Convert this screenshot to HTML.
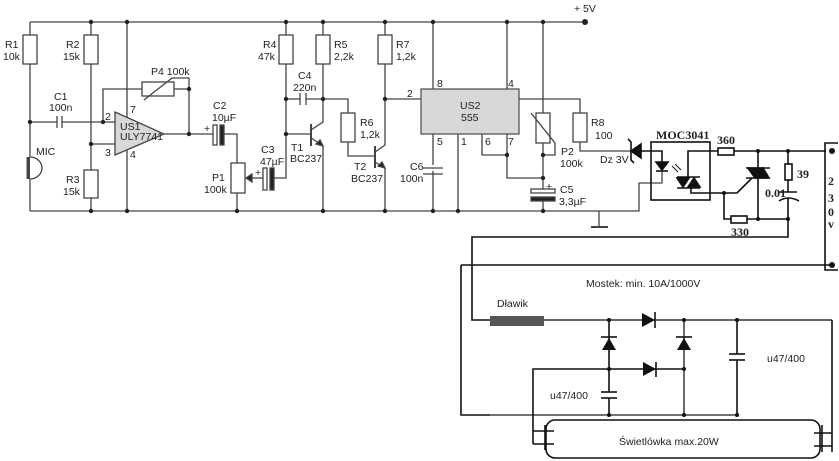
<!DOCTYPE html>
<html><head><meta charset="utf-8"><style>
html,body{margin:0;padding:0;background:#fff;width:839px;height:461px;overflow:hidden}
svg{display:block}
text{font-family:"Liberation Sans",sans-serif;font-size:10.5px;fill:#222}
.b{font-weight:bold;font-family:"Liberation Serif",serif;font-size:12px}
</style></head><body>
<svg width="839" height="461" viewBox="0 0 839 461" xmlns="http://www.w3.org/2000/svg">
<rect width="839" height="461" fill="#fff"/>
<g stroke="#444" stroke-width="1.3" fill="none">
<polyline points="30,22 585,22"/>
<polyline points="30,211 639,211 639,183 662,183 662,172"/>
<polyline points="599,211 599,227"/><line x1="591" y1="227" x2="608" y2="227" stroke-width="2"/>
<line x1="30" y1="22" x2="30" y2="211"/>
<rect x="23" y="35" width="14" height="29" fill="#fff"/>
<path d="M30,157 A12,11 0 0,1 30,179" fill="#fff"/>
<line x1="28" y1="157" x2="28" y2="179" stroke-width="3"/>
<line x1="30" y1="122" x2="57" y2="122"/><line x1="62" y1="122" x2="115" y2="122"/>
<line x1="57" y1="116" x2="57" y2="128"/><line x1="62" y1="116" x2="62" y2="128"/>
<line x1="91" y1="22" x2="91" y2="211"/>
<rect x="84" y="35" width="14" height="29" fill="#fff"/>
<rect x="84" y="170" width="14" height="28" fill="#fff"/>
<line x1="91" y1="144" x2="115" y2="144"/>
<line x1="127" y1="22" x2="127" y2="211"/>
<polygon points="115,112 115,155 164,134" fill="#d8d8d8"/>
<polyline points="103,122 103,89 142,89"/>
<rect x="142" y="82" width="32" height="14" fill="#fff"/>
<polyline points="174,89 189,89"/>
<polyline points="144,100 172,78 189,78 189,134"/>
<line x1="164" y1="134" x2="213" y2="134"/>
<rect x="213" y="125" width="4" height="20" fill="#fff"/>
<rect x="220" y="125" width="4" height="20" fill="#222"/>
<polyline points="224,134 237,134 237,163"/>
<rect x="231" y="163" width="14" height="30" fill="#fff"/>
<line x1="237" y1="193" x2="237" y2="211"/>
<line x1="247" y1="178" x2="263" y2="178"/>
<polygon points="246,178 252,174 252,182" fill="#222"/>
<rect x="263" y="168" width="4" height="22" fill="#fff"/>
<rect x="270" y="168" width="4" height="22" fill="#222"/>
<polyline points="274,178 286,178 286,22"/>
<rect x="279" y="35" width="14" height="29" fill="#fff"/>
<line x1="286" y1="99" x2="300" y2="99"/><line x1="306" y1="99" x2="323" y2="99"/>
<line x1="300" y1="93" x2="300" y2="105"/><line x1="306" y1="93" x2="306" y2="105"/>
<line x1="286" y1="134" x2="311" y2="134"/>
<line x1="311" y1="124" x2="311" y2="146" stroke-width="2"/>
<polyline points="311,130 323,122 323,22"/>
<polyline points="311,138 323,146 323,211"/>
<polygon points="323,146 316,144 320,140" fill="#222"/>
<rect x="316" y="35" width="14" height="29" fill="#fff"/>
<polyline points="323,99 348,99 348,156 375,156"/>
<rect x="341" y="113" width="14" height="29" fill="#fff"/>
<line x1="375" y1="146" x2="375" y2="168" stroke-width="2"/>
<polyline points="375,152 385,145 385,22"/>
<polyline points="375,162 385,168 385,211"/>
<polygon points="385,168 378,166 382,162" fill="#222"/>
<rect x="378" y="35" width="14" height="29" fill="#fff"/>
<line x1="385" y1="99" x2="421" y2="99"/>
<line x1="433" y1="22" x2="433" y2="211"/>
<line x1="507" y1="22" x2="507" y2="89"/>
<line x1="458" y1="134" x2="458" y2="211"/>
<polyline points="482,134 482,155 507,155"/>
<polyline points="507,134 507,178 543,178"/>
<rect x="421" y="89" width="98" height="45" fill="#d8d8d8" stroke="#555"/>
<line x1="423" y1="168" x2="443" y2="168" stroke="#fff" stroke-width="6"/>
<line x1="423" y1="168" x2="443" y2="168"/><line x1="423" y1="174" x2="443" y2="174"/>
<line x1="543" y1="22" x2="543" y2="190"/>
<rect x="536" y="113" width="14" height="30" fill="#fff"/>
<polyline points="531,113 555,143 555,155 543,155"/>
<rect x="531" y="189" width="24" height="4" fill="#fff"/>
<rect x="531" y="197" width="24" height="4" fill="#222"/>
<line x1="543" y1="201" x2="543" y2="211"/>
<polyline points="519,99 580,99 580,151 632,151"/>
<rect x="573" y="113" width="14" height="29" fill="#fff"/>
</g>
<g stroke="#111" stroke-width="1.6" fill="none">
<polygon points="631,151 641,144 641,158" fill="#111"/>
<polyline points="628,139 631,142 631,160 634,163"/>
<polyline points="641,151 662,151 662,162"/>
<rect x="651" y="142" width="59" height="58"/>
<polygon points="656,162 668,162 662,170" fill="#111"/>
<line x1="656" y1="171" x2="668" y2="171"/>
<line x1="672" y1="166" x2="678" y2="172" stroke-width="1"/><line x1="675" y1="164" x2="681" y2="170" stroke-width="1"/>
<polyline points="718,151 688,151 688,177"/>
<polygon points="677,178 689,178 683,187" fill="#111"/>
<polygon points="688,187 700,187 694,178" fill="#111"/>
<line x1="677" y1="177" x2="700" y2="177"/><line x1="677" y1="188" x2="700" y2="188"/>
<polyline points="691,188 691,193 724,193"/>
<rect x="718" y="148" width="16" height="7"/>
<line x1="734" y1="151" x2="826" y2="151"/>
<line x1="758" y1="151" x2="758" y2="219"/>
<polygon points="748,168 762,168 755,178" fill="#111"/>
<polygon points="756,178 769,178 763,168" fill="#111"/>
<line x1="746" y1="168" x2="770" y2="168"/><line x1="746" y1="178" x2="770" y2="178"/>
<polyline points="724,193 737,193 752,178"/>
<polyline points="724,193 724,219 731,219"/>
<rect x="731" y="216" width="16" height="7"/>
<line x1="747" y1="219" x2="788" y2="219"/>
<line x1="788" y1="151" x2="788" y2="164"/>
<rect x="785" y="164" width="7" height="16"/>
<line x1="788" y1="180" x2="788" y2="192"/>
<line x1="779" y1="192" x2="797" y2="192"/>
<path d="M779,201 Q788,195 799,201"/>
<polyline points="788,198 788,237 472,237 472,320 490,320"/>
<polyline points="838,143 825,143 825,270 838,270"/>
<line x1="461" y1="265" x2="832" y2="265"/>
<polyline points="461,265 461,415 490,415"/>
</g>
<g fill="#111">
<circle cx="832" cy="151" r="3"/><circle cx="832" cy="265" r="3"/>
<circle cx="758" cy="151" r="2"/><circle cx="788" cy="151" r="2"/><circle cx="758" cy="219" r="2"/><circle cx="788" cy="219" r="2"/><circle cx="724" cy="193" r="2"/>
</g>
<g fill="#222">
<circle cx="585" cy="22" r="3"/>
<circle cx="91" cy="22" r="2.2"/><circle cx="127" cy="22" r="2.2"/><circle cx="286" cy="22" r="2.2"/><circle cx="323" cy="22" r="2.2"/><circle cx="385" cy="22" r="2.2"/><circle cx="433" cy="22" r="2.2"/><circle cx="507" cy="22" r="2.2"/><circle cx="543" cy="22" r="2.2"/>
<circle cx="91" cy="211" r="2.2"/><circle cx="127" cy="211" r="2.2"/><circle cx="237" cy="211" r="2.2"/><circle cx="323" cy="211" r="2.2"/><circle cx="385" cy="211" r="2.2"/><circle cx="433" cy="211" r="2.2"/><circle cx="458" cy="211" r="2.2"/><circle cx="543" cy="211" r="2.2"/>
<circle cx="30" cy="122" r="2.2"/><circle cx="103" cy="122" r="2.2"/><circle cx="91" cy="144" r="2.2"/><circle cx="189" cy="89" r="2.2"/><circle cx="189" cy="134" r="2.2"/>
<circle cx="286" cy="99" r="2.2"/><circle cx="286" cy="134" r="2.2"/><circle cx="323" cy="99" r="2.2"/><circle cx="385" cy="99" r="2.2"/>
<circle cx="507" cy="155" r="2.2"/><circle cx="543" cy="155" r="2.2"/><circle cx="543" cy="178" r="2.2"/>
</g>
<g stroke="#111" stroke-width="1.6" fill="none">
<rect x="490" y="316" width="54" height="10" fill="#555" stroke="none"/>
<line x1="544" y1="320" x2="832" y2="320" stroke="#333"/>
<polyline points="832,320 832,452"/>
<line x1="490" y1="415" x2="737" y2="415" stroke="#444"/>
<line x1="609" y1="320" x2="609" y2="392"/><line x1="609" y1="398" x2="609" y2="415"/>
<line x1="601" y1="392" x2="617" y2="392"/><line x1="601" y1="398" x2="617" y2="398"/>
<line x1="684" y1="320" x2="684" y2="415" stroke="#444"/>
<line x1="737" y1="320" x2="737" y2="354"/><line x1="737" y1="360" x2="737" y2="415"/>
<line x1="729" y1="354" x2="745" y2="354"/><line x1="729" y1="360" x2="745" y2="360"/>
<polyline points="684,369 533,369 533,444"/>
<rect x="546" y="420" width="274" height="38" rx="9"/>
<line x1="533" y1="431" x2="554" y2="431"/><line x1="533" y1="444" x2="554" y2="444"/>
<line x1="545" y1="425" x2="545" y2="450"/>
<line x1="814" y1="433" x2="832" y2="433"/><line x1="814" y1="446" x2="832" y2="446"/>
<line x1="822" y1="425" x2="822" y2="452"/>
<line x1="601" y1="337" x2="617" y2="337"/><line x1="676" y1="337" x2="692" y2="337"/>
<line x1="655" y1="312" x2="655" y2="328"/><line x1="656" y1="362" x2="656" y2="377"/>
</g>
<g fill="#111">
<polygon points="609,338 602,350 616,350"/><polygon points="684,338 677,350 691,350"/>
<polygon points="655,320 642,313 642,327"/><polygon points="656,369 643,362 643,376"/>
<circle cx="609" cy="320" r="2"/><circle cx="684" cy="320" r="2"/><circle cx="737" cy="320" r="2"/>
<circle cx="609" cy="369" r="2"/><circle cx="684" cy="369" r="2"/>
<circle cx="609" cy="415" r="2"/><circle cx="684" cy="415" r="2"/><circle cx="737" cy="415" r="2"/>
</g>
<text x="574" y="12">+ 5V</text>
<text x="5" y="48">R1</text><text x="3" y="60">10k</text>
<text x="66" y="48">R2</text><text x="63" y="60">15k</text>
<text x="66" y="183">R3</text><text x="63" y="195">15k</text>
<text x="36" y="155">MIC</text>
<text x="54" y="100">C1</text><text x="49" y="111">100n</text>
<text x="151" y="75">P4 100k</text>
<text x="105" y="120" font-size="9">2</text><text x="105" y="156" font-size="9">3</text>
<text x="130" y="113" font-size="9">7</text><text x="130" y="158" font-size="9">4</text>
<text x="120" y="130" font-size="8">US1</text><text x="120" y="140" font-size="8">ULY7741</text>
<text x="213" y="109">C2</text><text x="212" y="121">10µF</text>
<text x="204" y="132">+</text><text x="255" y="176">+</text>
<text x="261" y="153">C3</text><text x="260" y="165">47µF</text>
<text x="212" y="181">P1</text><text x="204" y="193">100k</text>
<text x="263" y="48">R4</text><text x="258" y="60">47k</text>
<text x="334" y="48">R5</text><text x="334" y="60">2,2k</text>
<text x="396" y="48">R7</text><text x="396" y="60">1,2k</text>
<text x="298" y="79">C4</text><text x="293" y="91">220n</text>
<text x="360" y="126">R6</text><text x="360" y="138">1,2k</text>
<text x="291" y="151">T1</text><text x="290" y="162">BC237</text>
<text x="354" y="170">T2</text><text x="351" y="182">BC237</text>
<text x="410" y="170">C6</text><text x="400" y="182">100n</text>
<text x="407" y="97">2</text><text x="437" y="87">8</text><text x="508" y="87">4</text>
<text x="437" y="145">5</text><text x="461" y="145">1</text><text x="485" y="145">6</text><text x="508" y="145">7</text>
<text x="460" y="109" font-size="10">US2</text><text x="461" y="121" font-size="10">555</text>
<text x="561" y="155">P2</text><text x="560" y="167">100k</text>
<text x="546" y="190" font-size="9">+</text>
<text x="560" y="193">C5</text><text x="559" y="205">3,3µF</text>
<text x="591" y="126" font-size="9">R8</text><text x="595" y="139" font-size="10">100</text>
<text x="600" y="163">Dz 3V</text>
<text class="b" x="656" y="139">MOC3041</text>
<text class="b" x="717" y="144">360</text>
<text class="b" x="797" y="178">39</text>
<text class="b" x="765" y="197">0.01</text>
<text class="b" x="731" y="236">330</text>
<text class="b" x="828" y="185">2</text><text class="b" x="828" y="202">3</text><text class="b" x="828" y="216">0</text><text class="b" x="828" y="228">v</text>
<text x="586" y="287">Mostek: min. 10A/1000V</text>
<text x="497" y="307">Dławik</text>
<text x="767" y="362">u47/400</text>
<text x="550" y="399">u47/400</text>
<text x="619" y="445">Świetlówka max.20W</text>
</svg>
</body></html>
